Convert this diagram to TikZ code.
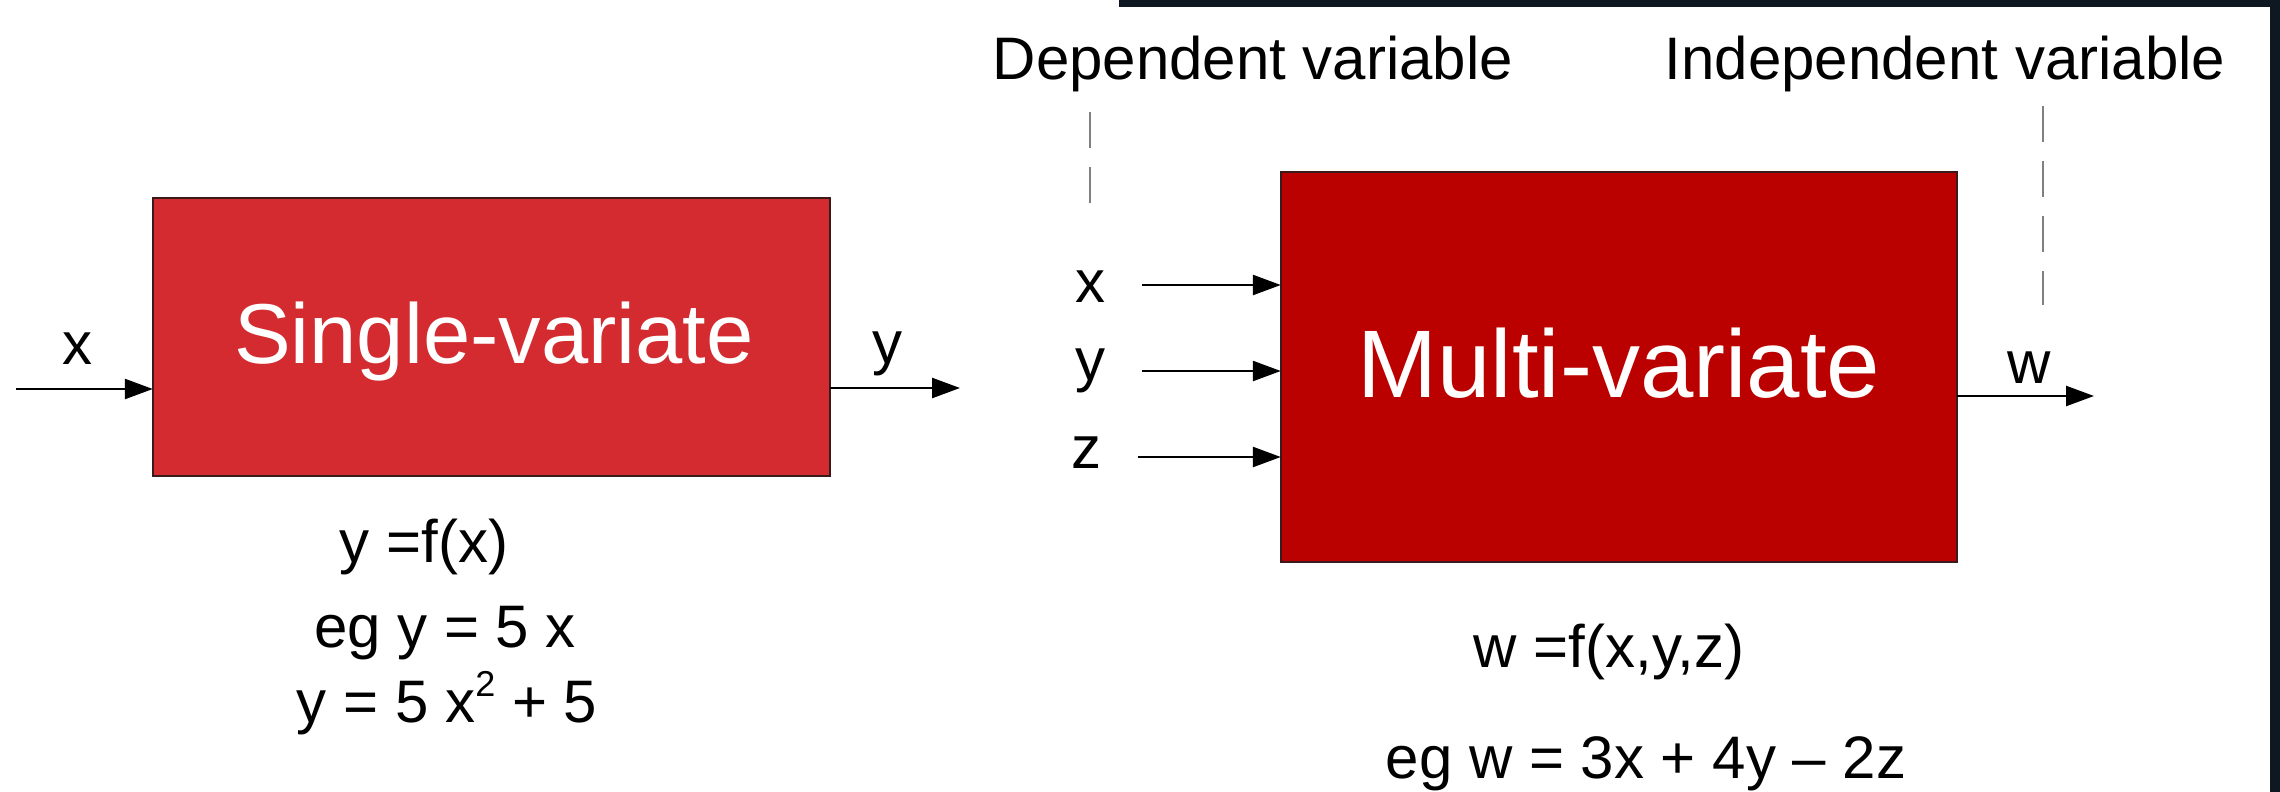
\documentclass[tikz,border=0pt]{standalone}
\usepackage{fontspec}
\setmainfont{Liberation Sans}
\usetikzlibrary{arrows.meta}
\definecolor{singlered}{HTML}{D32B2F}
\definecolor{multired}{HTML}{BB0000}
\definecolor{frame}{HTML}{0F1722}
\definecolor{boxedge}{HTML}{3A1A1A}
\definecolor{dashgray}{HTML}{808080}
\newcommand{\fs}[1]{\fontsize{#1}{#1}\selectfont}
\tikzset{
  lbl/.style={anchor=base, inner sep=0pt, font=\fs{60}},
  boxtitle/.style={anchor=base, inner sep=0pt, text=white},
  arr/.style={line width=2.5pt, -{Triangle[length=28pt,width=20pt]}},
  dashline/.style={line width=2pt, dashgray, dash pattern=on 36pt off 19pt},
  redbox/.style={line width=2pt, draw=boxedge}
}
\begin{document}
\begin{tikzpicture}[x=1pt,y=-1pt]
\useasboundingbox (0,0) rectangle (2280,792);
\fill[white] (0,0) rectangle (2280,792);
% dark frame
\fill[frame] (1119,0) rectangle (2280,7);
\fill[frame] (2270,0) rectangle (2280,792);

% boxes
\draw[redbox, fill=singlered] (153,198) rectangle (830,476);
\coordinate (single) at (491.5,337);
\node[inner sep=0pt, minimum width=677pt, minimum height=278pt] (sbox) at (491.5,337) {};
\draw[redbox, fill=multired] (1281,172) rectangle (1957,562);
\node[inner sep=0pt, minimum width=676pt, minimum height=390pt] (mbox) at (1619,367) {};

\node[boxtitle, font=\fs{85}] (stitle) at (494,363) {Single-variate};
\node[boxtitle, font=\fs{96}] (mtitle) at (1619,397) {Multi-variate};

% single-variate connectors
\coordinate (sin) at (16,389);
\coordinate (sout) at (960,388);
\draw[arr] (sin) -- (sin -| sbox.west);
\draw[arr] (sbox.east |- sout) -- (sout);
\node[lbl] (sx) at (77,364) {x};
\node[lbl] (sy) at (887,363) {y};

% multi-variate connectors
\coordinate (mxin) at (1142,285);
\coordinate (myin) at (1142,371);
\coordinate (mzin) at (1138,457);
\coordinate (mwout) at (2094,396);
\draw[arr] (mxin) -- (mxin -| mbox.west);
\draw[arr] (myin) -- (myin -| mbox.west);
\draw[arr] (mzin) -- (mzin -| mbox.west);
\draw[arr] (mbox.east |- mwout) -- (mwout);
\node[lbl] (mx) at (1090,302) {x};
\node[lbl] (my) at (1090,380) {y};
\node[lbl] (mz) at (1086,468) {z};
\node[lbl] (mw) at (2029,383) {w};

% headings and dashed leaders
\node[lbl] (dep) at (1253,80) {Dependent variable};
\node[lbl] (indep) at (1945,80) {Independent variable};
\coordinate (depA) at (1090,112);
\coordinate (depB) at (1090,204);
\coordinate (indA) at (2043,106);
\coordinate (indB) at (2043,305);
\draw[dashline] (depA) -- (depB);
\draw[dashline] (indA) -- (indB);

% formulas
\node[lbl] (f1) at (424,562) {y =f(x)};
\node[lbl] (f2) at (445,647) {eg y = 5 x};
\node[lbl] (f3) at (447,722) {y = 5 x\raisebox{0.42em}{\fs{36}2} + 5};
\node[lbl] (f4) at (1609,667) {w =f(x,y,z)};
\node[lbl] (f5) at (1646,778) {eg w = 3x + 4y – 2z};
\end{tikzpicture}
\end{document}
